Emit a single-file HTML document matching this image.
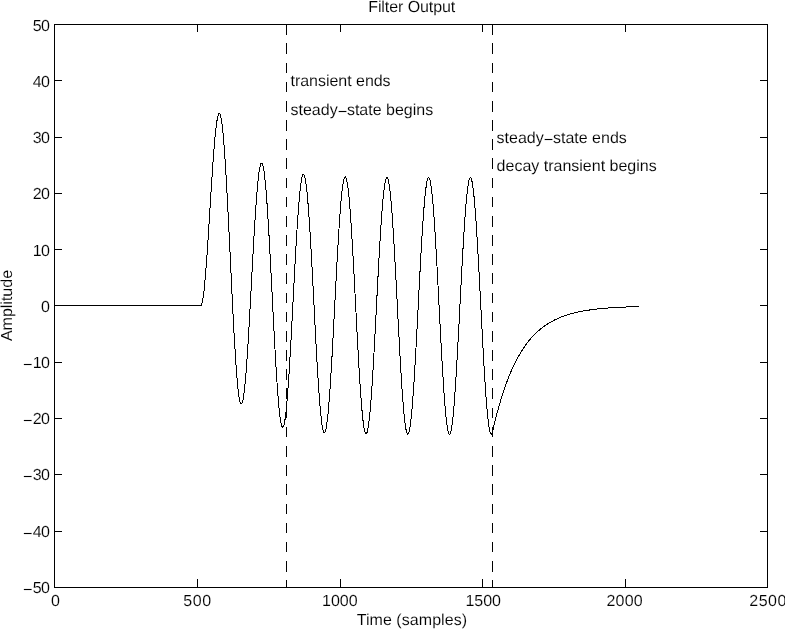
<!DOCTYPE html>
<html lang="en">
<head>
<meta charset="utf-8">
<title>Filter Output</title>
<style>
html,body{margin:0;padding:0;background:#fff;}
body{width:785px;height:629px;overflow:hidden;}
svg{display:block;}
text{font-family:"Liberation Sans",sans-serif;font-size:16px;fill:#000;text-rendering:geometricPrecision;stroke:#fff;stroke-width:0.12px;}
.yt{letter-spacing:-0.5px;}
.mn{font-size:16.5px;stroke-width:0.24px;}
.ax{stroke:#000;stroke-width:1;fill:none;shape-rendering:crispEdges;}
.cv{stroke:#000;stroke-width:1;fill:none;shape-rendering:crispEdges;stroke-linejoin:round;}
</style>
</head>
<body>
<svg width="785" height="629" viewBox="0 0 785 629">
<rect x="0" y="0" width="785" height="629" fill="#fff"/>
<rect class="ax" x="54.5" y="24.5" width="713" height="563"/>
<path class="ax" d="M54.5,587.5v-8.5M54.5,24.5v7.5M197.5,587.5v-8.5M197.5,24.5v7.5M340.5,587.5v-8.5M340.5,24.5v7.5M482.5,587.5v-8.5M482.5,24.5v7.5M625.5,587.5v-8.5M625.5,24.5v7.5M767.5,587.5v-8.5M767.5,24.5v7.5M54.5,587.5h7.5M767.5,587.5h-7.5M54.5,531.5h7.5M767.5,531.5h-7.5M54.5,474.5h7.5M767.5,474.5h-7.5M54.5,418.5h7.5M767.5,418.5h-7.5M54.5,362.5h7.5M767.5,362.5h-7.5M54.5,305.5h7.5M767.5,305.5h-7.5M54.5,249.5h7.5M767.5,249.5h-7.5M54.5,193.5h7.5M767.5,193.5h-7.5M54.5,137.5h7.5M767.5,137.5h-7.5M54.5,80.5h7.5M767.5,80.5h-7.5M54.5,24.5h7.5M767.5,24.5h-7.5"/>
<text x="51.1" y="606">0</text>
<text x="183.35" y="606" style="letter-spacing:0.5px">500</text>
<text x="322.0" y="606">1000</text>
<text x="465.4" y="606">1500</text>
<text x="606.4" y="606" style="letter-spacing:0.23px">2000</text>
<text x="749.3" y="606" style="letter-spacing:0.5px">2500</text>
<text class="yt" x="49.50" y="31" text-anchor="end">50</text>
<text class="yt" x="49.50" y="87" text-anchor="end">40</text>
<text class="yt" x="49.50" y="143" text-anchor="end">30</text>
<text class="yt" x="49.50" y="199" text-anchor="end">20</text>
<text class="yt" x="49.50" y="256" text-anchor="end">10</text>
<text class="yt" x="49.50" y="312" text-anchor="end">0</text>
<text class="yt" x="49.50" y="368" text-anchor="end"><tspan class="mn" dy="2">−</tspan><tspan dy="-2" dx="0.6">10</tspan></text>
<text class="yt" x="49.50" y="424" text-anchor="end"><tspan class="mn" dy="2">−</tspan><tspan dy="-2" dx="0.6">20</tspan></text>
<text class="yt" x="49.50" y="480" text-anchor="end"><tspan class="mn" dy="2">−</tspan><tspan dy="-2" dx="0.6">30</tspan></text>
<text class="yt" x="49.50" y="537" text-anchor="end"><tspan class="mn" dy="2">−</tspan><tspan dy="-2" dx="0.6">40</tspan></text>
<text class="yt" x="49.50" y="593" text-anchor="end"><tspan class="mn" dy="2">−</tspan><tspan dy="-2" dx="0.6">50</tspan></text>
<line class="ax" x1="286.5" y1="24.25" x2="286.5" y2="588" stroke-dasharray="10.58 8.59"/>
<line class="ax" x1="492.5" y1="24.25" x2="492.5" y2="588" stroke-dasharray="10.58 8.59"/>
<polyline class="cv" points="54.83,305.87 200.85,305.87 201.14,305.63 201.42,305.15 201.71,304.43 201.99,303.48 202.28,302.31 202.56,300.91 202.85,299.29 203.13,297.46 203.42,295.42 203.70,293.18 203.99,290.75 204.27,288.12 204.56,285.32 204.84,282.34 205.13,279.19 205.41,275.89 205.70,272.43 205.98,268.83 206.27,265.10 206.56,261.25 206.84,257.28 207.13,253.20 207.41,249.03 207.70,244.77 207.98,240.43 208.27,236.02 208.55,231.56 208.84,227.05 209.12,222.50 209.41,217.93 209.69,213.34 209.98,208.74 210.26,204.15 210.55,199.57 210.83,195.02 211.12,190.50 211.40,186.02 211.69,181.60 211.97,177.25 212.26,172.96 212.54,168.76 212.83,164.66 213.11,160.65 213.40,156.76 213.69,152.98 213.97,149.34 214.26,145.83 214.54,142.46 214.83,139.25 215.11,136.20 215.40,133.31 215.68,130.60 215.97,128.07 216.25,125.72 216.54,123.56 216.82,121.61 217.11,119.85 217.39,118.30 217.68,116.96 217.96,115.84 218.25,114.94 218.53,114.25 218.82,113.79 219.10,113.56 219.39,113.55 219.67,113.78 219.96,114.23 220.24,114.91 220.53,115.83 220.82,116.97 221.10,118.34 221.39,119.94 221.67,121.76 221.96,123.81 222.24,126.08 222.53,128.57 222.81,131.27 223.10,134.18 223.38,137.30 223.67,140.62 223.95,144.14 224.24,147.84 224.52,151.74 224.81,155.81 225.09,160.06 225.38,164.47 225.66,169.04 225.95,173.76 226.23,178.63 226.52,183.63 226.80,188.76 227.09,194.01 227.37,199.37 227.66,204.83 227.95,210.38 228.23,216.01 228.52,221.72 228.80,227.50 229.09,233.33 229.37,239.20 229.66,245.11 229.94,251.04 230.23,256.98 230.51,262.93 230.80,268.88 231.08,274.81 231.37,280.71 231.65,286.57 231.94,292.39 232.22,298.16 232.51,303.86 232.79,309.48 233.08,315.02 233.36,320.46 233.65,325.80 233.93,331.03 234.22,336.13 234.50,341.11 234.79,345.94 235.08,350.63 235.36,355.17 235.65,359.54 235.93,363.74 236.22,367.76 236.50,371.60 236.79,375.25 237.07,378.71 237.36,381.96 237.64,385.01 237.93,387.84 238.21,390.46 238.50,392.85 238.78,395.02 239.07,396.97 239.35,398.68 239.64,400.16 239.92,401.40 240.21,402.41 240.49,403.18 240.78,403.71 241.06,403.99 241.35,404.04 241.63,403.85 241.92,403.43 242.21,402.76 242.49,401.86 242.78,400.73 243.06,399.37 243.35,397.78 243.63,395.96 243.92,393.93 244.20,391.68 244.49,389.22 244.77,386.56 245.06,383.69 245.34,380.63 245.63,377.38 245.91,373.95 246.20,370.35 246.48,366.58 246.77,362.64 247.05,358.56 247.34,354.33 247.62,349.96 247.91,345.47 248.19,340.85 248.48,336.13 248.76,331.30 249.05,326.39 249.34,321.39 249.62,316.32 249.91,311.19 250.19,306.00 250.48,300.77 250.76,295.51 251.05,290.22 251.33,284.93 251.62,279.63 251.90,274.34 252.19,269.07 252.47,263.82 252.76,258.62 253.04,253.46 253.33,248.36 253.61,243.33 253.90,238.38 254.18,233.51 254.47,228.74 254.75,224.08 255.04,219.53 255.32,215.10 255.61,210.81 255.89,206.65 256.18,202.65 256.47,198.80 256.75,195.11 257.04,191.60 257.32,188.26 257.61,185.11 257.89,182.14 258.18,179.38 258.46,176.81 258.75,174.45 259.03,172.30 259.32,170.36 259.60,168.65 259.89,167.16 260.17,165.89 260.46,164.85 260.74,164.04 261.03,163.47 261.31,163.13 261.60,163.02 261.88,163.15 262.17,163.51 262.45,164.11 262.74,164.94 263.02,166.00 263.31,167.30 263.60,168.82 263.88,170.57 264.17,172.54 264.45,174.74 264.74,177.15 265.02,179.77 265.31,182.60 265.59,185.63 265.88,188.86 266.16,192.28 266.45,195.88 266.73,199.67 267.02,203.62 267.30,207.75 267.59,212.03 267.87,216.45 268.16,221.03 268.44,225.73 268.73,230.56 269.01,235.51 269.30,240.57 269.58,245.72 269.87,250.96 270.15,256.29 270.44,261.68 270.73,267.14 271.01,272.64 271.30,278.19 271.58,283.77 271.87,289.37 272.15,294.98 272.44,300.59 272.72,306.19 273.01,311.77 273.29,317.32 273.58,322.83 273.86,328.29 274.15,333.69 274.43,339.02 274.72,344.27 275.00,349.43 275.29,354.50 275.57,359.46 275.86,364.30 276.14,369.01 276.43,373.60 276.71,378.04 277.00,382.33 277.28,386.46 277.57,390.43 277.86,394.23 278.14,397.85 278.43,401.28 278.71,404.52 279.00,407.56 279.28,410.40 279.57,413.04 279.85,415.46 280.14,417.66 280.42,419.64 280.71,421.40 280.99,422.92 281.28,424.22 281.56,425.29 281.85,426.12 282.13,426.72 282.42,427.08 282.70,427.20 282.99,427.08 283.27,426.73 283.56,426.14 283.84,425.32 284.13,424.27 284.41,422.98 284.70,421.46 284.99,419.72 285.27,417.75 285.56,415.57 285.84,413.17 286.13,410.57 286.41,407.75 286.70,404.74 286.98,401.53 287.27,398.14 287.55,394.56 287.84,390.81 288.12,386.89 288.41,382.81 288.69,378.58 288.98,374.20 289.26,369.68 289.55,365.04 289.83,360.28 290.12,355.40 290.40,350.43 290.69,345.36 290.97,340.21 291.26,334.98 291.54,329.69 291.83,324.35 292.12,318.97 292.40,313.55 292.69,308.10 292.97,302.64 293.26,297.18 293.54,291.73 293.83,286.29 294.11,280.88 294.40,275.51 294.68,270.18 294.97,264.91 295.25,259.71 295.54,254.58 295.82,249.54 296.11,244.60 296.39,239.76 296.68,235.03 296.96,230.43 297.25,225.95 297.53,221.62 297.82,217.43 298.10,213.40 298.39,209.54 298.67,205.84 298.96,202.31 299.25,198.98 299.53,195.83 299.82,192.87 300.10,190.12 300.39,187.58 300.67,185.24 300.96,183.12 301.24,181.22 301.53,179.54 301.81,178.09 302.10,176.87 302.38,175.88 302.67,175.12 302.95,174.60 303.24,174.31 303.52,174.26 303.81,174.44 304.09,174.86 304.38,175.51 304.66,176.40 304.95,177.53 305.23,178.88 305.52,180.46 305.80,182.26 306.09,184.29 306.38,186.54 306.66,189.00 306.95,191.67 307.23,194.54 307.52,197.62 307.80,200.89 308.09,204.35 308.37,207.98 308.66,211.80 308.94,215.78 309.23,219.92 309.51,224.22 309.80,228.66 310.08,233.24 310.37,237.95 310.65,242.77 310.94,247.71 311.22,252.75 311.51,257.89 311.79,263.11 312.08,268.40 312.36,273.75 312.65,279.16 312.93,284.62 313.22,290.11 313.51,295.62 313.79,301.15 314.08,306.68 314.36,312.21 314.65,317.72 314.93,323.21 315.22,328.65 315.50,334.06 315.79,339.40 316.07,344.68 316.36,349.88 316.64,355.00 316.93,360.03 317.21,364.95 317.50,369.75 317.78,374.44 318.07,378.99 318.35,383.41 318.64,387.68 318.92,391.79 319.21,395.74 319.49,399.53 319.78,403.13 320.06,406.55 320.35,409.79 320.64,412.83 320.92,415.66 321.21,418.30 321.49,420.72 321.78,422.92 322.06,424.91 322.35,426.67 322.63,428.21 322.92,429.52 323.20,430.59 323.49,431.44 323.77,432.04 324.06,432.42 324.34,432.55 324.63,432.45 324.91,432.11 325.20,431.54 325.48,430.73 325.77,429.69 326.05,428.42 326.34,426.92 326.62,425.19 326.91,423.24 327.19,421.07 327.48,418.68 327.77,416.09 328.05,413.28 328.34,410.28 328.62,407.08 328.91,403.69 329.19,400.12 329.48,396.37 329.76,392.46 330.05,388.38 330.33,384.14 330.62,379.76 330.90,375.24 331.19,370.59 331.47,365.82 331.76,360.94 332.04,355.95 332.33,350.86 332.61,345.69 332.90,340.45 333.18,335.14 333.47,329.77 333.75,324.36 334.04,318.91 334.32,313.43 334.61,307.94 334.90,302.44 335.18,296.95 335.47,291.47 335.75,286.01 336.04,280.59 336.32,275.21 336.61,269.89 336.89,264.63 337.18,259.45 337.46,254.35 337.75,249.35 338.03,244.44 338.32,239.65 338.60,234.98 338.89,230.43 339.17,226.02 339.46,221.76 339.74,217.66 340.03,213.71 340.31,209.93 340.60,206.33 340.88,202.91 341.17,199.67 341.45,196.63 341.74,193.79 342.03,191.16 342.31,188.73 342.60,186.52 342.88,184.53 343.17,182.76 343.45,181.22 343.74,179.90 344.02,178.82 344.31,177.97 344.59,177.35 344.88,176.97 345.16,176.82 345.45,176.91 345.73,177.24 346.02,177.80 346.30,178.60 346.59,179.63 346.87,180.89 347.16,182.38 347.44,184.10 347.73,186.04 348.01,188.20 348.30,190.58 348.58,193.17 348.87,195.96 349.16,198.96 349.44,202.15 349.73,205.53 350.01,209.10 350.30,212.84 350.58,216.75 350.87,220.83 351.15,225.06 351.44,229.44 351.72,233.96 352.01,238.61 352.29,243.39 352.58,248.27 352.86,253.27 353.15,258.36 353.43,263.53 353.72,268.78 354.00,274.10 354.29,279.48 354.57,284.90 354.86,290.37 355.14,295.86 355.43,301.36 355.71,306.88 356.00,312.39 356.29,317.89 356.57,323.36 356.86,328.81 357.14,334.21 357.43,339.55 357.71,344.83 358.00,350.04 358.28,355.17 358.57,360.21 358.85,365.14 359.14,369.97 359.42,374.67 359.71,379.25 359.99,383.69 360.28,387.98 360.56,392.13 360.85,396.11 361.13,399.93 361.42,403.57 361.70,407.03 361.99,410.31 362.27,413.39 362.56,416.27 362.84,418.95 363.13,421.41 363.42,423.67 363.70,425.70 363.99,427.52 364.27,429.10 364.56,430.47 364.84,431.60 365.13,432.49 365.41,433.16 365.70,433.58 365.98,433.77 366.27,433.73 366.55,433.45 366.84,432.93 367.12,432.18 367.41,431.19 367.69,429.97 367.98,428.52 368.26,426.85 368.55,424.95 368.83,422.83 369.12,420.49 369.40,417.94 369.69,415.19 369.97,412.23 370.26,409.08 370.55,405.73 370.83,402.20 371.12,398.49 371.40,394.62 371.69,390.57 371.97,386.37 372.26,382.02 372.54,377.53 372.83,372.91 373.11,368.16 373.40,363.29 373.68,358.33 373.97,353.26 374.25,348.10 374.54,342.87 374.82,337.57 375.11,332.21 375.39,326.80 375.68,321.35 375.96,315.87 376.25,310.37 376.53,304.86 376.82,299.36 377.10,293.87 377.39,288.39 377.68,282.95 377.96,277.56 378.25,272.21 378.53,266.92 378.82,261.71 379.10,256.58 379.39,251.54 379.67,246.59 379.96,241.76 380.24,237.05 380.53,232.46 380.81,228.00 381.10,223.69 381.38,219.53 381.67,215.53 381.95,211.70 382.24,208.04 382.52,204.55 382.81,201.26 383.09,198.16 383.38,195.25 383.66,192.55 383.95,190.06 384.23,187.78 384.52,185.72 384.81,183.88 385.09,182.27 385.38,180.88 385.66,179.72 385.95,178.80 386.23,178.11 386.52,177.65 386.80,177.43 387.09,177.45 387.37,177.70 387.66,178.19 387.94,178.92 388.23,179.88 388.51,181.07 388.80,182.49 389.08,184.14 389.37,186.01 389.65,188.10 389.94,190.41 390.22,192.93 390.51,195.66 390.79,198.60 391.08,201.73 391.36,205.05 391.65,208.56 391.94,212.25 392.22,216.11 392.51,220.13 392.79,224.32 393.08,228.65 393.36,233.13 393.65,237.74 393.93,242.47 394.22,247.32 394.50,252.28 394.79,257.34 395.07,262.49 395.36,267.71 395.64,273.01 395.93,278.37 396.21,283.78 396.50,289.22 396.78,294.70 397.07,300.20 397.35,305.71 397.64,311.22 397.92,316.72 398.21,322.20 398.49,327.65 398.78,333.06 399.07,338.42 399.35,343.71 399.64,348.94 399.92,354.09 400.21,359.15 400.49,364.11 400.78,368.96 401.06,373.70 401.35,378.31 401.63,382.79 401.92,387.12 402.20,391.31 402.49,395.33 402.77,399.19 403.06,402.88 403.34,406.39 403.63,409.72 403.91,412.85 404.20,415.79 404.48,418.52 404.77,421.05 405.05,423.36 405.34,425.45 405.62,427.33 405.91,428.98 406.20,430.40 406.48,431.59 406.77,432.55 407.05,433.28 407.34,433.77 407.62,434.03 407.91,434.05 408.19,433.83 408.48,433.38 408.76,432.69 409.05,431.77 409.33,430.61 409.62,429.22 409.90,427.61 410.19,425.77 410.47,423.71 410.76,421.44 411.04,418.95 411.33,416.25 411.61,413.35 411.90,410.24 412.18,406.95 412.47,403.47 412.75,399.81 413.04,395.98 413.33,391.98 413.61,387.82 413.90,383.51 414.18,379.05 414.47,374.46 414.75,369.75 415.04,364.92 415.32,359.97 415.61,354.93 415.89,349.80 416.18,344.58 416.46,339.30 416.75,333.95 417.03,328.55 417.32,323.11 417.60,317.64 417.89,312.14 418.17,306.63 418.46,301.13 418.74,295.63 419.03,290.14 419.31,284.69 419.60,279.28 419.88,273.92 420.17,268.61 420.46,263.37 420.74,258.22 421.03,253.15 421.31,248.17 421.60,243.30 421.88,238.55 422.17,233.92 422.45,229.43 422.74,225.08 423.02,220.87 423.31,216.82 423.59,212.94 423.88,209.22 424.16,205.69 424.45,202.34 424.73,199.18 425.02,196.22 425.30,193.46 425.59,190.90 425.87,188.56 426.16,186.44 426.44,184.53 426.73,182.85 427.01,181.40 427.30,180.17 427.59,179.18 427.87,178.42 428.16,177.90 428.44,177.61 428.73,177.56 429.01,177.74 429.30,178.16 429.58,178.82 429.87,179.71 430.15,180.83 430.44,182.19 430.72,183.77 431.01,185.58 431.29,187.60 431.58,189.85 431.86,192.31 432.15,194.98 432.43,197.86 432.72,200.93 433.00,204.20 433.29,207.65 433.57,211.29 433.86,215.10 434.14,219.08 434.43,223.22 434.72,227.51 435.00,231.94 435.29,236.51 435.57,241.21 435.86,246.03 436.14,250.96 436.43,255.99 436.71,261.11 437.00,266.31 437.28,271.59 437.57,276.93 437.85,282.32 438.14,287.76 438.42,293.23 438.71,298.73 438.99,304.23 439.28,309.74 439.56,315.24 439.85,320.73 440.13,326.19 440.42,331.61 440.70,336.98 440.99,342.29 441.27,347.54 441.56,352.71 441.85,357.80 442.13,362.79 442.42,367.67 442.70,372.44 442.99,377.09 443.27,381.60 443.56,385.98 443.84,390.21 444.13,394.28 444.41,398.19 444.70,401.92 444.98,405.49 445.27,408.86 445.55,412.05 445.84,415.04 446.12,417.83 446.41,420.42 446.69,422.79 446.98,424.95 447.26,426.88 447.55,428.60 447.83,430.09 448.12,431.34 448.40,432.37 448.69,433.16 448.98,433.72 449.26,434.05 449.55,434.13 449.83,433.98 450.12,433.59 450.40,432.97 450.69,432.12 450.97,431.03 451.26,429.70 451.54,428.16 451.83,426.38 452.11,424.38 452.40,422.17 452.68,419.74 452.97,417.10 453.25,414.25 453.54,411.21 453.82,407.97 454.11,404.54 454.39,400.93 454.68,397.14 454.96,393.19 455.25,389.07 455.53,384.81 455.82,380.39 456.11,375.84 456.39,371.16 456.68,366.36 456.96,361.45 457.25,356.43 457.53,351.32 457.82,346.13 458.10,340.86 458.39,335.53 458.67,330.14 458.96,324.71 459.24,319.25 459.53,313.76 459.81,308.25 460.10,302.74 460.38,297.24 460.67,291.75 460.95,286.29 461.24,280.87 461.52,275.49 461.81,270.16 462.09,264.90 462.38,259.72 462.66,254.63 462.95,249.62 463.24,244.72 463.52,239.94 463.81,235.27 464.09,230.74 464.38,226.34 464.66,222.09 464.95,218.00 465.23,214.07 465.52,210.30 465.80,206.72 466.09,203.31 466.37,200.10 466.66,197.08 466.94,194.26 467.23,191.65 467.51,189.24 467.80,187.06 468.08,185.09 468.37,183.34 468.65,181.82 468.94,180.53 469.22,179.47 469.51,178.65 469.79,178.05 470.08,177.70 470.37,177.58 470.65,177.69 470.94,178.05 471.22,178.64 471.51,179.46 471.79,180.52 472.08,181.81 472.36,183.32 472.65,185.07 472.93,187.03 473.22,189.22 473.50,191.62 473.79,194.23 474.07,197.04 474.36,200.06 474.64,203.27 474.93,206.68 475.21,210.26 475.50,214.02 475.78,217.95 476.07,222.04 476.35,226.29 476.64,230.69 476.92,235.22 477.21,239.88 477.50,244.67 477.78,249.56 478.07,254.57 478.35,259.66 478.64,264.84 478.92,270.10 479.21,275.42 479.49,280.80 479.78,286.23 480.06,291.69 480.35,297.18 480.63,302.68 480.92,308.19 481.20,313.69 481.49,319.19 481.77,324.65 482.06,330.08 482.34,335.47 482.63,340.80 482.91,346.07 483.20,351.26 483.48,356.37 483.77,361.39 484.05,366.31 484.34,371.11 484.63,375.79 484.91,380.34 485.20,384.76 485.48,389.03 485.77,393.15 486.05,397.10 486.34,400.89 486.62,404.51 486.91,407.94 487.19,411.18 487.48,414.23 487.76,417.07 488.05,419.72 488.33,422.15 488.62,424.37 488.90,426.37 489.19,428.15 489.47,429.70 489.76,431.02 490.04,432.12 490.33,432.98 490.61,433.60 490.90,433.99 491.18,434.15 491.47,434.06 491.76,433.74 492.04,433.19 492.33,432.40 492.61,431.37 492.90,430.12 493.18,428.88 493.47,427.65 493.75,426.43 494.04,425.22 494.32,424.03 494.61,422.85 494.89,421.68 495.18,420.52 495.46,419.37 495.75,418.24 496.03,417.12 496.32,416.00 496.60,414.90 496.89,413.81 497.17,412.73 497.46,411.66 497.74,410.61 498.03,409.56 498.31,408.52 498.60,407.49 498.89,406.48 499.17,405.47 499.46,404.48 499.74,403.49 500.03,402.51 500.31,401.55 500.60,400.59 500.88,399.64 501.17,398.71 501.45,397.78 501.74,396.86 502.02,395.95 502.31,395.05 502.59,394.16 502.88,393.27 503.16,392.40 503.45,391.53 503.73,390.68 504.02,389.83 504.30,388.99 504.59,388.16 504.87,387.34 505.16,386.52 505.44,385.71 505.73,384.92 506.02,384.13 506.30,383.34 506.59,382.57 506.87,381.80 507.16,381.04 507.44,380.29 507.73,379.55 508.01,378.81 508.30,378.08 508.58,377.36 508.87,376.64 509.15,375.93 509.44,375.23 509.72,374.54 510.01,373.85 510.29,373.17 510.58,372.50 510.86,371.83 511.15,371.18 511.43,370.52 511.72,369.88 512.00,369.24 512.29,368.60 512.57,367.97 512.86,367.35 513.15,366.74 513.43,366.13 513.72,365.53 514.00,364.93 514.29,364.34 514.57,363.76 514.86,363.18 515.14,362.60 515.43,362.04 515.71,361.47 516.00,360.92 516.28,360.37 516.57,359.82 516.85,359.28 517.14,358.75 517.42,358.22 517.71,357.70 517.99,357.18 518.28,356.67 518.56,356.16 518.85,355.65 519.13,355.16 519.42,354.66 519.70,354.18 519.99,353.69 520.28,353.21 520.56,352.74 520.85,352.27 521.13,351.81 521.42,351.35 521.70,350.89 521.99,350.44 522.27,350.00 522.56,349.56 522.84,349.12 523.13,348.69 523.41,348.26 523.70,347.84 523.98,347.42 524.27,347.00 524.55,346.59 524.84,346.18 525.12,345.78 525.41,345.38 525.69,344.98 525.98,344.59 526.26,344.21 526.55,343.82 526.83,343.44 527.12,343.07 527.41,342.70 527.69,342.33 527.98,341.96 528.26,341.60 528.55,341.24 528.83,340.89 529.12,340.54 529.40,340.19 529.69,339.85 529.97,339.51 530.26,339.17 530.54,338.84 530.83,338.51 531.11,338.19 531.40,337.86 531.68,337.54 531.97,337.23 532.25,336.91 532.54,336.60 532.82,336.29 533.11,335.99 533.39,335.69 533.68,335.39 533.96,335.10 534.25,334.80 534.54,334.51 534.82,334.23 535.11,333.94 535.39,333.66 535.68,333.39 535.96,333.11 536.25,332.84 536.53,332.57 536.82,332.30 537.10,332.04 537.39,331.78 537.67,331.52 537.96,331.26 538.24,331.01 538.53,330.75 538.81,330.51 539.10,330.26 539.38,330.02 539.67,329.77 539.95,329.53 540.24,329.30 540.52,329.06 540.81,328.83 541.09,328.60 541.38,328.37 541.67,328.15 541.95,327.93 542.24,327.71 542.52,327.49 542.81,327.27 543.09,327.06 543.38,326.85 543.66,326.64 543.95,326.43 544.23,326.22 544.52,326.02 544.80,325.82 545.09,325.62 545.37,325.42 545.66,325.23 545.94,325.03 546.23,324.84 546.51,324.65 546.80,324.46 547.08,324.28 547.37,324.09 547.65,323.91 547.94,323.73 548.22,323.55 548.51,323.37 548.80,323.20 549.08,323.03 549.37,322.85 549.65,322.69 549.94,322.52 550.22,322.35 550.51,322.19 550.79,322.02 551.08,321.86 551.36,321.70 551.65,321.54 551.93,321.39 552.22,321.23 552.50,321.08 552.79,320.93 553.07,320.77 553.36,320.63 553.64,320.48 553.93,320.33 554.21,320.19 554.50,320.04 554.78,319.90 555.07,319.76 555.35,319.62 555.64,319.49 555.93,319.35 556.21,319.21 556.50,319.08 556.78,318.95 557.07,318.82 557.35,318.69 557.64,318.56 557.92,318.43 558.21,318.31 558.49,318.18 558.78,318.06 559.06,317.94 559.35,317.82 559.63,317.70 559.92,317.58 560.20,317.46 560.49,317.35 560.77,317.23 561.06,317.12 561.34,317.01 561.63,316.89 561.91,316.78 562.20,316.68 562.48,316.57 562.77,316.46 563.06,316.35 563.34,316.25 563.63,316.15 563.91,316.04 564.20,315.94 564.48,315.84 564.77,315.74 565.05,315.64 565.34,315.54 565.62,315.45 565.91,315.35 566.19,315.26 566.48,315.16 566.76,315.07 567.05,314.98 567.33,314.89 567.62,314.80 567.90,314.71 568.19,314.62 568.47,314.53 568.76,314.45 569.04,314.36 569.33,314.27 569.61,314.19 569.90,314.11 570.19,314.03 570.47,313.94 570.76,313.86 571.04,313.78 571.33,313.70 571.61,313.63 571.90,313.55 572.18,313.47 572.47,313.40 572.75,313.32 573.04,313.25 573.32,313.17 573.61,313.10 573.89,313.03 574.18,312.95 574.46,312.88 574.75,312.81 575.03,312.74 575.32,312.68 575.60,312.61 575.89,312.54 576.17,312.47 576.46,312.41 576.74,312.34 577.03,312.28 577.32,312.21 577.60,312.15 577.89,312.09 578.17,312.02 578.46,311.96 578.74,311.90 579.03,311.84 579.31,311.78 579.60,311.72 579.88,311.66 580.17,311.61 580.45,311.55 580.74,311.49 581.02,311.44 581.31,311.38 581.59,311.33 581.88,311.27 582.16,311.22 582.45,311.16 582.73,311.11 583.02,311.06 583.30,311.01 583.59,310.95 583.87,310.90 584.16,310.85 584.45,310.80 584.73,310.75 585.02,310.71 585.30,310.66 585.59,310.61 585.87,310.56 586.16,310.52 586.44,310.47 586.73,310.42 587.01,310.38 587.30,310.33 587.58,310.29 587.87,310.24 588.15,310.20 588.44,310.16 588.72,310.11 589.01,310.07 589.29,310.03 589.58,309.99 589.86,309.95 590.15,309.91 590.43,309.87 590.72,309.83 591.00,309.79 591.29,309.75 591.58,309.71 591.86,309.67 592.15,309.63 592.43,309.59 592.72,309.56 593.00,309.52 593.29,309.48 593.57,309.45 593.86,309.41 594.14,309.38 594.43,309.34 594.71,309.31 595.00,309.27 595.28,309.24 595.57,309.20 595.85,309.17 596.14,309.14 596.42,309.10 596.71,309.07 596.99,309.04 597.28,309.01 597.56,308.98 597.85,308.95 598.13,308.92 598.42,308.89 598.71,308.86 598.99,308.83 599.28,308.80 599.56,308.77 599.85,308.74 600.13,308.71 600.42,308.68 600.70,308.65 600.99,308.62 601.27,308.60 601.56,308.57 601.84,308.54 602.13,308.52 602.41,308.49 602.70,308.46 602.98,308.44 603.27,308.41 603.55,308.39 603.84,308.36 604.12,308.34 604.41,308.31 604.69,308.29 604.98,308.26 605.26,308.24 605.55,308.22 605.84,308.19 606.12,308.17 606.41,308.15 606.69,308.12 606.98,308.10 607.26,308.08 607.55,308.06 607.83,308.03 608.12,308.01 608.40,307.99 608.69,307.97 608.97,307.95 609.26,307.93 609.54,307.91 609.83,307.89 610.11,307.87 610.40,307.85 610.68,307.83 610.97,307.81 611.25,307.79 611.54,307.77 611.82,307.75 612.11,307.73 612.39,307.71 612.68,307.69 612.97,307.68 613.25,307.66 613.54,307.64 613.82,307.62 614.11,307.60 614.39,307.59 614.68,307.57 614.96,307.55 615.25,307.54 615.53,307.52 615.82,307.50 616.10,307.49 616.39,307.47 616.67,307.45 616.96,307.44 617.24,307.42 617.53,307.41 617.81,307.39 618.10,307.38 618.38,307.36 618.67,307.35 618.95,307.33 619.24,307.32 619.52,307.30 619.81,307.29 620.10,307.27 620.38,307.26 620.67,307.25 620.95,307.23 621.24,307.22 621.52,307.21 621.81,307.19 622.09,307.18 622.38,307.17 622.66,307.15 622.95,307.14 623.23,307.13 623.52,307.12 623.80,307.10 624.09,307.09 624.37,307.08 624.66,307.07 624.94,307.05 625.23,307.04 625.51,307.03 625.80,307.02 626.08,307.01 626.37,307.00 626.65,306.98 626.94,306.97 627.23,306.96 627.51,306.95 627.80,306.94 628.08,306.93 628.37,306.92 628.65,306.91 628.94,306.90 629.22,306.89 629.51,306.88 629.79,306.87 630.08,306.86 630.36,306.85 630.65,306.84 630.93,306.83 631.22,306.82 631.50,306.81 631.79,306.80 632.07,306.79 632.36,306.78 632.64,306.77 632.93,306.76 633.21,306.75 633.50,306.75 633.78,306.74 634.07,306.73 634.36,306.72 634.64,306.71 634.93,306.70 635.21,306.69 635.50,306.69 635.78,306.68 636.07,306.67 636.35,306.66 636.64,306.65 636.92,306.65 637.21,306.64 637.49,306.63 637.78,306.62 638.06,306.62 638.35,306.61 638.63,306.60"/>
<text x="290.5" y="86" style="letter-spacing:-0.03px">transient ends</text>
<text x="290.5" y="115">steady<tspan class="mn" dy="2">−</tspan><tspan dy="-2" dx="-0.4">state begins</tspan></text>
<text x="496.6" y="143">steady<tspan class="mn" dy="2">−</tspan><tspan dy="-2" dx="-0.4">state ends</tspan></text>
<text x="496.6" y="171">decay transient begins</text>
<text x="411.7" y="12" text-anchor="middle" style="letter-spacing:-0.08px">Filter Output</text>
<text x="411.9" y="625" text-anchor="middle" style="letter-spacing:0.06px">Time (samples)</text>
<text transform="translate(11.5,305.5) rotate(-90)" text-anchor="middle">Amplitude</text>
</svg>
</body>
</html>
